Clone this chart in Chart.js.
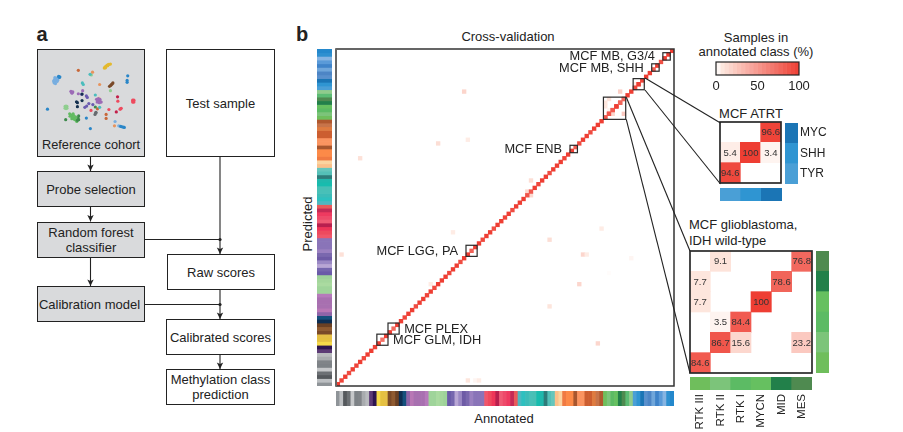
<!DOCTYPE html>
<html>
<head>
<meta charset="utf-8">
<script src="https://cdn.jsdelivr.net/npm/chart.js@4"></script>
<style>
html, body { margin: 0; padding: 0; background: #fff; }
body { width: 903px; height: 432px; position: relative; overflow: hidden; font-family: "Liberation Sans", sans-serif; color: #222; }
canvas { position: absolute; display: block; }
svg { position: absolute; left: 0; top: 0; pointer-events: none; }
.box { position: absolute; box-sizing: border-box; border: 1.3px solid #222; display: flex; align-items: center; justify-content: center; text-align: center; font-size: 13px; line-height: 15px; background: #fff; }
.grey { background: #d9dadc; }
.txt { position: absolute; font-size: 13px; white-space: nowrap; line-height: 15px; }
.c { transform: translate(-50%, -50%); }
.head { font-weight: bold; font-size: 20px; }
</style>
</head>
<body>

<div class="txt c head" style="left:42px;top:34px">a</div>
<div class="txt c head" style="left:302px;top:34px">b</div>

<div class="box grey" style="left:37px;top:49px;width:108px;height:108px;align-items:flex-end;padding-bottom:4px;font-size:12.8px">Reference cohort</div>
<div class="box" style="left:166px;top:49px;width:109px;height:108px">Test sample</div>
<div class="box grey" style="left:37px;top:171px;width:108px;height:36px">Probe selection</div>
<div class="box grey" style="left:37px;top:222px;width:108px;height:36px">Random forest<br>classifier</div>
<div class="box grey" style="left:37px;top:286px;width:108px;height:36px;padding-right:3px">Calibration model</div>
<div class="box" style="left:167px;top:254px;width:108px;height:36px">Raw scores</div>
<div class="box" style="left:166px;top:319px;width:109px;height:36px">Calibrated scores</div>
<div class="box" style="left:166px;top:369px;width:109px;height:36px">Methylation class<br>prediction</div>

<div class="txt c" style="left:508px;top:36px">Cross-validation</div>
<div class="txt c" style="left:504px;top:418px">Annotated</div>
<div class="txt c" style="left:307px;top:224px;transform:translate(-50%,-50%) rotate(-90deg)">Predicted</div>
<div class="txt c" style="left:756px;top:37px">Samples in</div>
<div class="txt c" style="left:756px;top:51px">annotated class (%)</div>
<div class="txt c" style="left:751px;top:113px">MCF ATRT</div>
<div class="txt" style="left:689px;top:217px">MCF glioblastoma,</div>
<div class="txt" style="left:689px;top:233px">IDH wild-type</div>

<canvas id="cohort" width="108" height="108" style="left:37px;top:49px"></canvas>
<canvas id="stripLeft" width="15" height="337" style="left:317px;top:49px"></canvas>
<canvas id="stripBottom" width="338" height="15" style="left:336px;top:391px"></canvas>
<canvas id="matrix" width="350" height="350" style="left:330px;top:43px"></canvas>
<canvas id="legend" width="115" height="42" style="left:700px;top:60px"></canvas>
<canvas id="atrt" width="65" height="65" style="left:718px;top:120px"></canvas>
<canvas id="atrtRight" width="46" height="61" style="left:785px;top:123px"></canvas>
<canvas id="atrtBottom" width="62" height="13" style="left:720px;top:188px"></canvas>
<canvas id="gbm" width="126" height="126" style="left:688px;top:249px"></canvas>
<canvas id="gbmRight" width="13" height="122" style="left:816px;top:251px"></canvas>
<canvas id="gbmBottom" width="122" height="55" style="left:690px;top:377px"></canvas>

<svg width="903" height="432">
  <g stroke="#222" stroke-width="1.1" fill="none">
    <line x1="90.5" y1="157" x2="90.5" y2="171"/>
    <line x1="90.5" y1="207" x2="90.5" y2="221.5"/>
    <line x1="90.5" y1="258" x2="90.5" y2="286"/>
    <line x1="220" y1="157" x2="220" y2="254"/>
    <line x1="220" y1="290" x2="220" y2="319"/>
    <line x1="220" y1="355" x2="220" y2="369"/>
    <line x1="145" y1="239.5" x2="220" y2="239.5"/>
    <line x1="145" y1="304.5" x2="220" y2="304.5"/>
  </g>
  <g fill="#222">
    <path d="M87.3 164.5 L90.5 166 L93.7 164.5 L90.5 171 Z"/>
    <path d="M87.3 215 L90.5 216.5 L93.7 215 L90.5 221.5 Z"/>
    <path d="M87.3 279.5 L90.5 281 L93.7 279.5 L90.5 286 Z"/>
    <path d="M216.8 247.5 L220 249 L223.2 247.5 L220 254 Z"/>
    <path d="M216.8 312.5 L220 314 L223.2 312.5 L220 319 Z"/>
    <path d="M216.8 362.5 L220 364 L223.2 362.5 L220 369 Z"/>
  </g>
  <circle cx="220" cy="239.5" r="1.6" fill="#222"/>
  <circle cx="220" cy="304.5" r="1.6" fill="#222"/>
  <g stroke="#222" stroke-width="1.1">
    <line x1="645" y1="78" x2="720.5" y2="123"/>
    <line x1="645" y1="90" x2="720.5" y2="184"/>
    <line x1="626.3" y1="97.3" x2="690" y2="251"/>
    <line x1="626.3" y1="119.3" x2="690" y2="373"/>
  </g>
</svg>

<script>
// cross-validation matrix: 91 methylation classes
const classIds = Array.from({ length: 91 }, (_, i) => 'c' + i);

const classColors = [
  '#8f9498', '#bcbfc2', '#55595d', '#6c7074', '#c5c7c9', '#7d8286', '#808488', '#a8abae', '#b9bbbe', '#5c3a75',
  '#2d1550', '#f5d94a', '#e5c140', '#e5bf45', '#7a4a28', '#8f5a30', '#6b4023', '#0e2e52', '#14507c', '#8e64a8',
  '#b877b5', '#a870b0', '#a870b0', '#a870b0', '#b67abb', '#9fd49a', '#9fd49a', '#aadaa0', '#a4d69c', '#9ed29a',
  '#6a5aa8', '#7566ae', '#b8a6d4', '#9a88c4', '#6e5ba6', '#7a68ae', '#9a80c0', '#8a74b8', '#8a74b8', '#8a74b8',
  '#f0566a', '#ee4a5e', '#ee3558', '#b81f4e', '#f05a74', '#ee4a6a', '#ee3a60', '#c42a55', '#e85a5a', '#4db8c0',
  '#2ec0bf', '#3cbcb8', '#48c0b8', '#48bfb5', '#18bcae', '#20b8ac', '#2e7c7a', '#55c0b8', '#66c6bc', '#fcc08a',
  '#fcd4a0', '#f07a42', '#fc8a48', '#fc8a48', '#a8562e', '#fa9460', '#fa9460', '#cc5e30', '#cc5e30', '#de7b40',
  '#c7744a', '#b0582e', '#6fbe5c', '#7cc47a', '#5cbb64', '#66c060', '#22804a', '#4f8a50', '#5cbc74', '#90cb8c',
  '#4a9fd6', '#2f95d2', '#1b75b5', '#5a90cc', '#4d85c5', '#70a6da', '#3f83c9', '#5a9ad8', '#86b4e2', '#2e90d0',
  '#2488cc'
];

const diagonal = [
  100, 96, 100, 92, 100, 97, 100, 94, 100, 100,
  98, 100, 72, 100, 100, 76, 100, 100, 95, 100,
  100, 92, 100, 100, 96, 100, 93, 100, 100, 100,
  95, 100, 100, 92, 100, 100, 80, 100, 100, 94,
  100, 100, 90, 100, 100, 96, 100, 92, 100, 100,
  100, 88, 86, 100, 95, 100, 100, 92, 100, 100,
  100, 96, 100, 100, 82, 92, 100, 100, 93, 100,
  100, 100, 84.6, 86.7, 84.4, 100, 78.6, 76.8, 100, 100,
  94.6, 100, 96.6, 100, 100, 82, 100, 90, 100, 100,
  100
];

// misclassified samples away from the diagonal
const offAnnotated = [34, 27, 35, 6, 76, 52, 51, 52, 71, 1, 31, 25, 35, 37, 38, 57, 66, 67, 79, 73, 65, 57, 70];
const offPredicted = [79, 65, 66, 61, 79, 55, 52, 51, 42, 35, 41, 27, 1, 1, 1, 39, 35, 35, 34, 30, 27, 21, 11];
const offPercent = [17, 12, 6, 10, 20, 12, 15, 15, 6, 10, 6, 6, 8, 3, 6, 12, 16, 6, 3, 1, 16, 8, 16];

// zoomed classes, labels are on the left or right of their box
const boxFrom = [88, 85, 80, 72, 63, 35, 14, 11];
const boxTo = [90, 87, 83, 78, 65, 38, 17, 14];
const boxLabels = ['MCF MB, G3/4', 'MCF MB, SHH', '', '', 'MCF ENB', 'MCF LGG, PA', 'MCF PLEX', 'MCF GLM, IDH'];
const boxSides = ['left', 'left', '', '', 'left', 'left', 'right', 'right'];

// insets, rows from top to bottom
const atrtClasses = ['TYR', 'SHH', 'MYC'];
const atrtRowNames = ['MYC', 'SHH', 'TYR'];
const atrtFirst = 80;
const atrtRows = [
  [null, null, 96.6],
  [5.4, 100, 3.4],
  [94.6, null, null]
];

const gbmClasses = ['RTK III', 'RTK II', 'RTK I', 'MYCN', 'MID', 'MES'];
const gbmFirst = 72;
const gbmRows = [
  [null, 9.1, null, null, null, 76.8],
  [7.7, null, null, null, 78.6, null],
  [7.7, null, null, 100, null, null],
  [null, 3.5, 84.4, null, null, null],
  [null, 86.7, 15.6, null, null, 23.2],
  [84.6, null, null, null, null, null]
];

const legendSteps = [5, 10, 15, 20, 25, 30, 35, 40, 45, 50, 55, 60, 65, 70, 75, 80, 85, 90, 95, 100];
const legendTicks = [0, 50, 100];

// reference cohort embedding
const cohortX = [
  212, 207, 220, 225, 215, 205, 210, 216, 209, 218,
  58, 50, 44, 42, 47, 52, 61, 55, 46, 43, 49, 54, 41, 45, 60, 57,
  121, 163, 167, 159, 134, 137, 190,
  233, 228, 222, 281, 279, 279, 225, 231, 226,
  97, 103, 100, 135, 121, 132, 176, 99, 101,
  248, 249, 299, 297, 301, 297, 301, 185, 190, 182, 195, 180, 188, 150, 147, 186, 191, 184, 193, 189,
  155, 148, 142, 168, 133, 118, 115, 133, 118,
  81, 78, 84, 78, 84, 81, 81, 21, 183, 176, 190, 220, 244, 258, 162, 256, 260,
  178, 175, 93, 100, 108, 115, 120, 105, 112, 122, 94, 100, 122, 97, 103, 110, 116, 108, 113, 104, 118,
  80, 147, 211, 211, 240, 238, 252, 262, 270, 160, 178, 266, 258
];
const cohortY = [
  42, 46, 37, 36, 39, 49, 44, 41, 48, 38,
  78, 81, 86, 94, 99, 92, 77, 83, 90, 97, 84, 88, 90, 80, 79, 76,
  56, 71, 62, 69, 97, 102, 102,
  97, 102, 108, 74, 89, 95, 122, 100, 105,
  124, 126, 130, 122, 132, 134, 136, 127, 129,
  142, 156, 156, 153, 153, 159, 159, 152, 157, 159, 159, 150, 146, 144, 139, 148, 150, 155, 158, 161,
  164, 172, 176, 167, 154, 161, 158, 133, 174,
  176, 173, 173, 179, 179, 172, 180, 182, 181, 175, 176, 183, 191, 181, 186, 182, 179,
  194, 199, 197, 206, 212, 219, 211, 202, 207, 204, 205, 213, 216, 201, 209, 216, 222, 214, 210, 197, 218,
  216, 211, 199, 212, 222, 236, 236, 239, 241, 245, 192, 240, 238
];
const cohortGroup = [
  0, 0, 0, 0, 0, 0, 0, 0, 0, 0,
  2, 1, 1, 1, 1, 1, 2, 1, 1, 1, 1, 1, 1, 1, 2, 2,
  4, 6, 3, 5, 5, 5, 3,
  7, 7, 7, 2, 2, 2, 6, 7, 7,
  8, 8, 8, 8, 8, 9, 5, 8, 8,
  10, 11, 11, 11, 11, 11, 11, 8, 8, 8, 8, 8, 16, 9, 9, 8, 8, 8, 8, 8,
  9, 9, 9, 9, 12, 12, 12, 12, 12,
  6, 6, 6, 6, 6, 6, 6, 2, 4, 14, 5, 11, 10, 11, 11, 11, 11,
  15, 15, 13, 13, 13, 13, 14, 13, 13, 14, 13, 13, 14, 13, 13, 13, 13, 13, 13, 13, 14,
  14, 2, 4, 4, 1, 3, 1, 2, 2, 2, 15, 2, 2
];
const cohortPalette = [
  '#e3b92f', '#78aee0', '#2a86c8', '#e8935c', '#c8683a', '#4bbdbd', '#8fce8f', '#7a4a2a', '#9c6bb6',
  '#6a5bb0', '#c21f4a', '#ee4a5e', '#14304f', '#62bb62', '#3f8a4c', '#666a6e', '#f6c89c'
];

Chart.defaults.animation = false;
Chart.defaults.responsive = false;
Chart.defaults.devicePixelRatio = 1;
Chart.defaults.font.family = '"Liberation Sans", sans-serif';
Chart.defaults.color = '#222';
Chart.defaults.plugins.legend.display = false;
Chart.defaults.plugins.tooltip.enabled = false;

// white - pale peach - red, same ramp for matrix and legend
function heatColor(v) {
  const stops = [[0, 255, 255, 255], [8, 253, 229, 220], [100, 238, 62, 51]];
  const s = v <= 8 ? 0 : 1;
  const t = (v - stops[s][0]) / (stops[s + 1][0] - stops[s][0]);
  const c = [1, 2, 3].map(k => Math.round(stops[s][k] + (stops[s + 1][k] - stops[s][k]) * t));
  return 'rgb(' + c.join(',') + ')';
}

const framePlugin = {
  id: 'frame',
  afterDraw(chart, args, opts) {
    const a = chart.chartArea, c = chart.ctx;
    c.save();
    c.strokeStyle = opts.color || '#222';
    c.lineWidth = opts.width || 1.5;
    c.strokeRect(a.left, a.top, a.right - a.left, a.bottom - a.top);
    c.restore();
  }
};

const hidden = { display: false, grid: { display: false } };

// numbers written in the inset cells
const cellTextPlugin = {
  id: 'cellText',
  afterDatasetsDraw(chart) {
    const c = chart.ctx;
    c.save();
    c.font = '9.5px "Liberation Sans", sans-serif';
    c.fillStyle = '#333';
    c.textAlign = 'center';
    c.textBaseline = 'middle';
    chart.getDatasetMeta(0).data.forEach((bar, i) => {
      c.fillText(chart.data.datasets[0].values[i], bar.x, (bar.y + bar.base) / 2 + 0.5);
    });
    c.restore();
  }
};

function insetMatrix(id, names, rows, pad) {
  const cells = [], values = [];
  rows.forEach((row, r) => row.forEach((v, col) => {
    if (v !== null) {
      cells.push({ x: names[col], y: [r, r + 1] });
      values.push(v);
    }
  }));
  new Chart(document.getElementById(id), {
    type: 'bar',
    data: {
      labels: names,
      datasets: [{
        data: cells,
        values: values,
        backgroundColor: values.map(heatColor),
        barPercentage: 1,
        categoryPercentage: 1
      }]
    },
    options: {
      layout: { padding: pad },
      scales: {
        x: hidden,
        y: { display: false, reverse: true, min: 0, max: rows.length, grid: { display: false } }
      },
      plugins: { frame: { color: '#2a2a2a', width: 1.7 } }
    },
    plugins: [cellTextPlugin, framePlugin]
  });
}

function colorStrip(id, labels, colors, vertical, extra) {
  const catAxis = Object.assign({ display: false, grid: { display: false } }, extra || {});
  const valAxis = { display: false, min: 0, max: 1, grid: { display: false } };
  new Chart(document.getElementById(id), {
    type: 'bar',
    data: {
      labels: labels,
      datasets: [{
        data: labels.map(() => 1),
        backgroundColor: colors,
        barPercentage: 1,
        categoryPercentage: 1
      }]
    },
    options: {
      indexAxis: vertical ? 'y' : 'x',
      scales: vertical ? { y: catAxis, x: valAxis } : { x: catAxis, y: valAxis }
    }
  });
}

// main matrix
const mainCells = [], mainValues = [];
function addCell(col, row, v) {
  mainCells.push({ x: classIds[col], y: [row, row + 1] });
  mainValues.push(v);
}
offAnnotated.forEach((col, i) => addCell(col, offPredicted[i], offPercent[i]));
atrtRows.forEach((row, r) => row.forEach((v, c) => {
  if (v !== null) addCell(atrtFirst + c, atrtFirst + 2 - r, v);
}));
gbmRows.forEach((row, r) => row.forEach((v, c) => {
  if (v !== null) addCell(gbmFirst + c, gbmFirst + 5 - r, v);
}));
diagonal.forEach((v, i) => addCell(i, i, v));

const zoomBoxPlugin = {
  id: 'zoomBoxes',
  afterDraw(chart) {
    const c = chart.ctx, xs = chart.scales.x, ys = chart.scales.y;
    const a = chart.chartArea;
    const cell = (a.right - a.left) / classIds.length;
    c.save();
    // left side of the frame is greyer and heavier
    c.strokeStyle = '#666';
    c.lineWidth = 2;
    c.beginPath();
    c.moveTo(a.left, a.top);
    c.lineTo(a.left, a.bottom);
    c.stroke();
    c.strokeStyle = '#2a2a2a';
    c.lineWidth = 1.2;
    c.fillStyle = '#222';
    c.font = '12.8px "Liberation Sans", sans-serif';
    c.textBaseline = 'middle';
    boxFrom.forEach((from, i) => {
      const x0 = xs.getPixelForValue(from) - cell / 2;
      const x1 = xs.getPixelForValue(boxTo[i]) - cell / 2;
      const y0 = ys.getPixelForValue(boxTo[i]);
      const y1 = ys.getPixelForValue(from);
      c.strokeRect(x0, y0, x1 - x0, y1 - y0);
      if (boxSides[i] === 'left') {
        c.textAlign = 'right';
        c.fillText(boxLabels[i], x0 - 8, (y0 + y1) / 2 + 0.5);
      } else if (boxSides[i] === 'right') {
        c.textAlign = 'left';
        c.fillText(boxLabels[i], x1 + 5, (y0 + y1) / 2 + 0.5);
      }
    });
    c.restore();
  }
};

new Chart(document.getElementById('matrix'), {
  type: 'bar',
  data: {
    labels: classIds,
    datasets: [{
      data: mainCells,
      backgroundColor: mainValues.map(heatColor),
      barPercentage: 1,
      categoryPercentage: 1
    }]
  },
  options: {
    layout: { padding: { left: 6, top: 6, right: 6, bottom: 7 } },
    scales: {
      x: hidden,
      y: { display: false, min: 0, max: classIds.length, grid: { display: false } }
    },
    plugins: { frame: { color: '#333', width: 1.5 } }
  },
  plugins: [framePlugin, zoomBoxPlugin]
});

colorStrip('stripBottom', classIds, classColors, false);
colorStrip('stripLeft', classIds, classColors, true, { reverse: true });

// colour legend, one stacked piece per step
new Chart(document.getElementById('legend'), {
  type: 'bar',
  data: {
    labels: ['%'],
    datasets: legendSteps.map((v, i) => ({
      data: [v - (i ? legendSteps[i - 1] : 0)],
      backgroundColor: heatColor(v - 2.5),
      barPercentage: 1,
      categoryPercentage: 1
    }))
  },
  options: {
    indexAxis: 'y',
    layout: { padding: { left: 16, right: 16, top: 2, bottom: 0 } },
    scales: {
      x: {
        stacked: true,
        min: 0,
        max: 100,
        afterBuildTicks: s => { s.ticks = legendTicks.map(v => ({ value: v })); },
        grid: { display: false, drawTicks: false },
        border: { display: false },
        ticks: { font: { size: 13 }, padding: 4, maxRotation: 0 },
        afterFit: s => { s.height = 27; }
      },
      y: { stacked: true, display: false, grid: { display: false } }
    },
    plugins: { frame: { color: '#222', width: 1.2 } }
  },
  plugins: [framePlugin]
});

insetMatrix('atrt', atrtClasses, atrtRows, 2);
colorStrip('atrtBottom', atrtClasses, atrtClasses.map((_, i) => classColors[atrtFirst + i]), false);
colorStrip('atrtRight', atrtRowNames, atrtRowNames.map((_, i) => classColors[atrtFirst + 2 - i]), true, {
  display: true,
  position: 'right',
  border: { display: false },
  grid: { display: false, drawTicks: false },
  ticks: { font: { size: 12 }, padding: 2 },
  afterFit: s => { s.width = 33; s.paddingTop = 0; s.paddingBottom = 0; }
});

insetMatrix('gbm', gbmClasses, gbmRows, 2);
colorStrip('gbmRight', gbmClasses, gbmClasses.map((_, i) => classColors[gbmFirst + 5 - i]), true);
colorStrip('gbmBottom', gbmClasses, gbmClasses.map((_, i) => classColors[gbmFirst + i]), false, {
  display: true,
  border: { display: false },
  grid: { display: false, drawTicks: false },
  ticks: { font: { size: 11.5 }, padding: 4, minRotation: 90, maxRotation: 90, autoSkip: false },
  afterFit: s => { s.height = 42; s.paddingLeft = 0; s.paddingRight = 0; }
});

// reference cohort map
new Chart(document.getElementById('cohort'), {
  type: 'scatter',
  data: {
    datasets: [{
      data: cohortX.map((x, i) => ({ x: x, y: cohortY[i] })),
      backgroundColor: cohortGroup.map(g => cohortPalette[g]),
      pointRadius: 1.6,
      borderWidth: 0
    }]
  },
  options: {
    scales: {
      x: { display: false, min: 0, max: 324 },
      y: { display: false, min: 0, max: 324, reverse: true }
    }
  }
});
</script>
</body>
</html>
